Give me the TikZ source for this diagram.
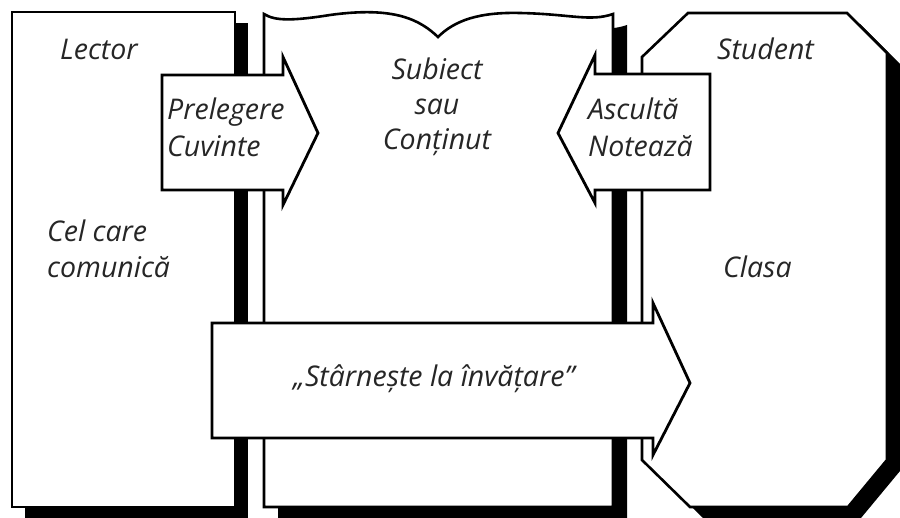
\documentclass[tikz,border=0pt]{standalone}
\usepackage{fontspec}
\setmainfont{Open Sans}
\begin{document}
\begin{tikzpicture}[x=1pt,y=-1pt,
  boxline/.style={draw=black,line width=2.6pt,fill=white,line join=miter},
  shadowfill/.style={fill=black,draw=none},
  arrowline/.style={draw=black,line width=2.8pt,fill=white,line join=miter},
  lbl/.style={anchor=base west,inner sep=0pt,font=\fontsize{28.5}{34}\selectfont\itshape,text=black!85},
  clbl/.style={anchor=base,inner sep=0pt,font=\fontsize{28.5}{34}\selectfont\itshape,text=black!85}]
\useasboundingbox (0,0) rectangle (900,518);
\fill[white] (0,0) rectangle (900,518);
% shadows
\fill[shadowfill] (25,23) rectangle (248,518);
\fill[shadowfill,shift={(14,11)}] (264,507) -- (264,14) .. controls (275,21) and (292,21) .. (330,15) .. controls (395,6) and (420,20) .. (438,37) .. controls (455,20) and (480,12) .. (520,13) .. controls (570,14) and (590,22) .. (613,14) -- (613,507) -- cycle;
\fill[shadowfill,shift={(13,11)}] (642,57) -- (688,13) -- (847,13) -- (887,53) -- (887,460) -- (848,507) -- (690,507) -- (642,460) -- cycle;
% boxes
\draw[boxline] (12,12) rectangle (235,507);
\draw[boxline] (264,507) -- (264,14) .. controls (275,21) and (292,21) .. (330,15) .. controls (395,6) and (420,20) .. (438,37) .. controls (455,20) and (480,12) .. (520,13) .. controls (570,14) and (590,22) .. (613,14) -- (613,507) -- cycle;
\draw[boxline] (642,57) -- (688,13) -- (847,13) -- (887,53) -- (887,460) -- (848,507) -- (690,507) -- (642,460) -- cycle;
% arrows
\draw[arrowline] (162,75) -- (283,75) -- (283,57) -- (318,133) -- (283,205) -- (283,190) -- (162,190) -- cycle;
\draw[arrowline] (710,74) -- (595,74) -- (595,55) -- (558,133) -- (595,203) -- (595,190) -- (710,190) -- cycle;
\draw[arrowline] (212,323) -- (653,323) -- (653,303) -- (690,383) -- (653,455) -- (653,438) -- (212,438) -- cycle;
% labels
\node[lbl] (lector) at (60,60) {Lector};
\node[lbl] (cel) at (47,242) {Cel care};
\node[lbl] (comunica) at (47,278) {comunică};
\node[lbl] (prelegere) at (167,120) {Prelegere};
\node[lbl] (cuvinte) at (167,157) {Cuvinte};
\node[clbl] (subiect) at (437,80) {Subiect};
\node[clbl] (sau) at (437,115) {sau};
\node[clbl] (continut) at (437,150) {Conținut};
\node[lbl] (asculta) at (588,120) {Ascultă};
\node[lbl] (noteaza) at (588,157) {Notează};
\node[lbl] (student) at (717,60) {Student};
\node[lbl] (clasa) at (723,278) {Clasa};
\node[lbl] (starneste) at (293,387) {„Stârnește la învățare”};
\end{tikzpicture}
\end{document}
